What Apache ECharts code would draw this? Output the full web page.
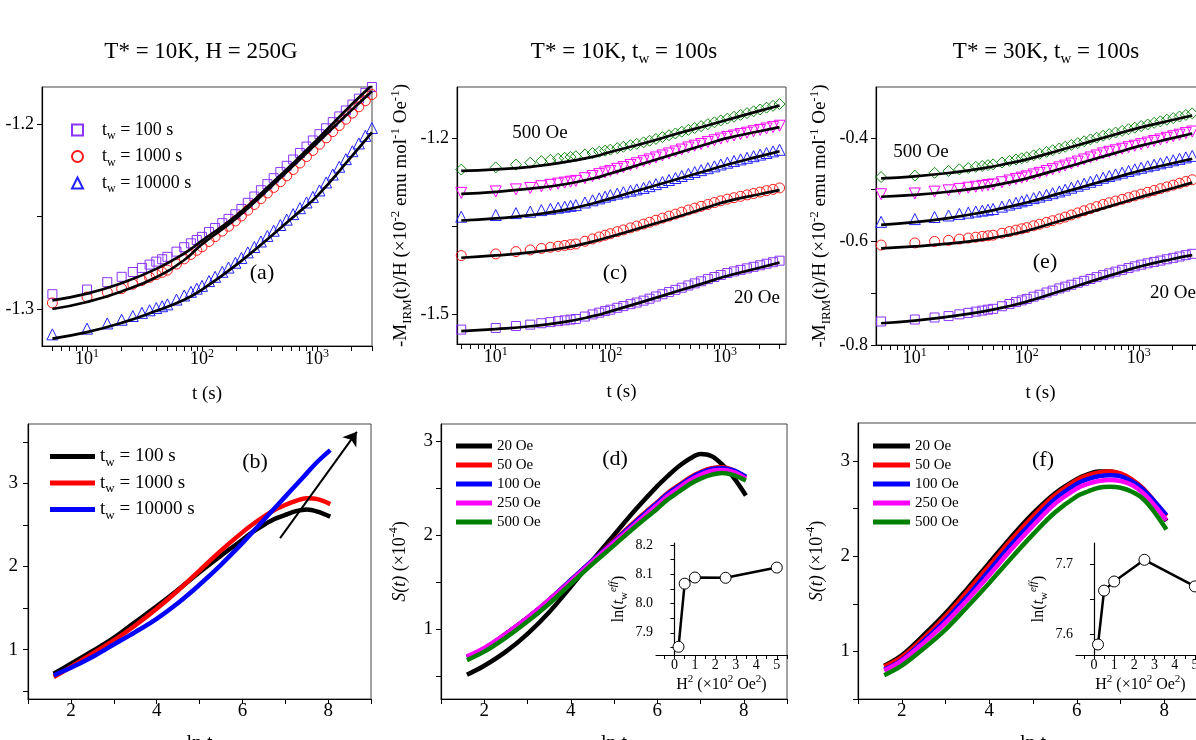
<!DOCTYPE html>
<html><head><meta charset="utf-8">
<script src="https://cdn.jsdelivr.net/npm/echarts@6/dist/echarts.min.js"></script>
<style>html,body{margin:0;padding:0;background:#fff;overflow:hidden}#c{width:1196px;height:740px}</style>
</head><body><div id="c"></div>
<script>
const FONT = '"Liberation Serif","Times New Roman",serif';

// ---------- time grids (s) ----------
const tScatter = [5,10,15,20,25,30,35,40,45,50,60,70,80,90,100,115,130,150,170,195,220,250,285,325,370,420,480,545,620,710,810,920,1050,1200,1370,1560,1780,2030,2310,2630,3000];
const tFit = [5,10,20,40,70,100,200,400,700,1000,2000,3000];

// ---------- panel (a): T*=10K, H=250G ----------
const aTw100 = [-1.2920,-1.2895,-1.2855,-1.2826,-1.2800,-1.2778,-1.2760,-1.2744,-1.2731,-1.2718,-1.2690,-1.2666,-1.2645,-1.2627,-1.2610,-1.2584,-1.2562,-1.2536,-1.2513,-1.2488,-1.2459,-1.2426,-1.2392,-1.2358,-1.2325,-1.2293,-1.2259,-1.2226,-1.2192,-1.2157,-1.2122,-1.2089,-1.2055,-1.2023,-1.1990,-1.1959,-1.1927,-1.1895,-1.1863,-1.1832,-1.1800];
const aTw1000 = [-1.2967,-1.2935,-1.2909,-1.2890,-1.2866,-1.2846,-1.2829,-1.2814,-1.2802,-1.2790,-1.2757,-1.2729,-1.2705,-1.2683,-1.2664,-1.2635,-1.2609,-1.2579,-1.2553,-1.2524,-1.2497,-1.2466,-1.2435,-1.2404,-1.2373,-1.2343,-1.2312,-1.2280,-1.2246,-1.2211,-1.2176,-1.2143,-1.2109,-1.2075,-1.2041,-1.2008,-1.1974,-1.1941,-1.1907,-1.1874,-1.1841];
const aTw10000 = [-1.3137,-1.3106,-1.3078,-1.3058,-1.3038,-1.3021,-1.3007,-1.2995,-1.2985,-1.2975,-1.2949,-1.2927,-1.2907,-1.2890,-1.2875,-1.2849,-1.2826,-1.2799,-1.2776,-1.2750,-1.2724,-1.2694,-1.2665,-1.2635,-1.2605,-1.2577,-1.2546,-1.2517,-1.2487,-1.2455,-1.2424,-1.2394,-1.2359,-1.2316,-1.2273,-1.2231,-1.2190,-1.2147,-1.2105,-1.2064,-1.2022];
const aFit100 = [-1.2953,-1.2917,-1.2860,-1.2783,-1.2700,-1.2630,-1.2494,-1.2323,-1.2180,-1.2085,-1.1895,-1.1790];
const aFit1000 = [-1.3000,-1.2962,-1.2905,-1.2828,-1.2735,-1.2650,-1.2508,-1.2338,-1.2195,-1.2103,-1.1925,-1.1823];
const aFit10000 = [-1.3160,-1.3125,-1.3075,-1.3010,-1.2950,-1.2895,-1.2760,-1.2605,-1.2475,-1.2390,-1.2175,-1.2045];

// ---------- panel (c): T*=10K, tw=100s ----------
const c500 = [-1.2537,-1.2500,-1.2453,-1.2420,-1.2393,-1.2371,-1.2353,-1.2337,-1.2323,-1.2310,-1.2281,-1.2256,-1.2234,-1.2215,-1.2198,-1.2172,-1.2149,-1.2122,-1.2099,-1.2073,-1.2046,-1.2015,-1.1984,-1.1952,-1.1922,-1.1892,-1.1860,-1.1829,-1.1797,-1.1764,-1.1732,-1.1700,-1.1669,-1.1637,-1.1605,-1.1575,-1.1544,-1.1513,-1.1482,-1.1451,-1.1420];
const c250 = [-1.2934,-1.2910,-1.2875,-1.2850,-1.2821,-1.2797,-1.2777,-1.2759,-1.2744,-1.2730,-1.2685,-1.2648,-1.2615,-1.2586,-1.2560,-1.2525,-1.2496,-1.2461,-1.2430,-1.2396,-1.2365,-1.2331,-1.2297,-1.2263,-1.2229,-1.2196,-1.2161,-1.2130,-1.2101,-1.2069,-1.2039,-1.2009,-1.1981,-1.1957,-1.1933,-1.1909,-1.1885,-1.1861,-1.1837,-1.1814,-1.1790];
const c100 = [-1.3341,-1.3312,-1.3279,-1.3256,-1.3228,-1.3206,-1.3187,-1.3171,-1.3156,-1.3143,-1.3098,-1.3061,-1.3028,-1.2999,-1.2973,-1.2947,-1.2924,-1.2898,-1.2875,-1.2850,-1.2820,-1.2785,-1.2750,-1.2715,-1.2681,-1.2647,-1.2611,-1.2579,-1.2547,-1.2514,-1.2482,-1.2450,-1.2420,-1.2392,-1.2364,-1.2337,-1.2309,-1.2282,-1.2255,-1.2227,-1.2200];
const c50 = [-1.4003,-1.3975,-1.3935,-1.3907,-1.3882,-1.3862,-1.3845,-1.3830,-1.3817,-1.3805,-1.3759,-1.3720,-1.3686,-1.3657,-1.3630,-1.3595,-1.3566,-1.3531,-1.3500,-1.3466,-1.3435,-1.3400,-1.3365,-1.3330,-1.3296,-1.3262,-1.3226,-1.3195,-1.3164,-1.3132,-1.3100,-1.3070,-1.3041,-1.3017,-1.2993,-1.2969,-1.2945,-1.2921,-1.2897,-1.2874,-1.2850];
const c20 = [-1.5265,-1.5237,-1.5204,-1.5180,-1.5156,-1.5137,-1.5121,-1.5107,-1.5094,-1.5083,-1.5042,-1.5006,-1.4976,-1.4949,-1.4925,-1.4893,-1.4864,-1.4831,-1.4803,-1.4771,-1.4738,-1.4700,-1.4662,-1.4625,-1.4587,-1.4551,-1.4512,-1.4477,-1.4441,-1.4404,-1.4368,-1.4333,-1.4300,-1.4273,-1.4247,-1.4221,-1.4195,-1.4168,-1.4142,-1.4116,-1.4090];
const c500Fit = [-1.2560,-1.2535,-1.2490,-1.2410,-1.2320,-1.2238,-1.2085,-1.1915,-1.1785,-1.1700,-1.1537,-1.1445];
const c250Fit = [-1.2952,-1.2916,-1.2862,-1.2787,-1.2690,-1.2605,-1.2426,-1.2247,-1.2102,-1.2010,-1.1884,-1.1813];
const c100Fit = [-1.3405,-1.3370,-1.3315,-1.3225,-1.3115,-1.3029,-1.2859,-1.2689,-1.2552,-1.2464,-1.2313,-1.2226];
const c50Fit = [-1.4040,-1.4000,-1.3950,-1.3870,-1.3765,-1.3681,-1.3509,-1.3332,-1.3182,-1.3087,-1.2958,-1.2888];
const c20Fit = [-1.5290,-1.5255,-1.5208,-1.5133,-1.5036,-1.4954,-1.4779,-1.4599,-1.4455,-1.4360,-1.4210,-1.4122];

// ---------- panel (e): T*=30K, tw=100s ----------
const e500 = [-0.4758,-0.4730,-0.4677,-0.4640,-0.4609,-0.4584,-0.4562,-0.4544,-0.4528,-0.4513,-0.4477,-0.4446,-0.4419,-0.4396,-0.4375,-0.4339,-0.4309,-0.4273,-0.4241,-0.4206,-0.4174,-0.4139,-0.4103,-0.4068,-0.4032,-0.3998,-0.3961,-0.3930,-0.3899,-0.3867,-0.3835,-0.3805,-0.3774,-0.3743,-0.3712,-0.3682,-0.3651,-0.3621,-0.3590,-0.3560,-0.3530];
const e250 = [-0.5090,-0.5075,-0.5040,-0.5015,-0.4987,-0.4964,-0.4945,-0.4928,-0.4913,-0.4900,-0.4859,-0.4825,-0.4795,-0.4769,-0.4745,-0.4708,-0.4677,-0.4640,-0.4607,-0.4572,-0.4537,-0.4498,-0.4459,-0.4419,-0.4380,-0.4342,-0.4302,-0.4271,-0.4242,-0.4212,-0.4182,-0.4154,-0.4124,-0.4093,-0.4062,-0.4032,-0.4001,-0.3971,-0.3940,-0.3910,-0.3880];
const e100 = [-0.5623,-0.5570,-0.5529,-0.5500,-0.5469,-0.5445,-0.5424,-0.5406,-0.5389,-0.5375,-0.5329,-0.5290,-0.5256,-0.5227,-0.5200,-0.5165,-0.5136,-0.5101,-0.5070,-0.5036,-0.5002,-0.4964,-0.4926,-0.4887,-0.4849,-0.4812,-0.4772,-0.4739,-0.4707,-0.4674,-0.4642,-0.4610,-0.4579,-0.4550,-0.4521,-0.4493,-0.4464,-0.4435,-0.4407,-0.4379,-0.4350];
const e50 = [-0.6071,-0.6030,-0.6001,-0.5980,-0.5956,-0.5936,-0.5919,-0.5904,-0.5892,-0.5880,-0.5842,-0.5810,-0.5782,-0.5757,-0.5735,-0.5699,-0.5669,-0.5633,-0.5601,-0.5566,-0.5531,-0.5490,-0.5450,-0.5409,-0.5369,-0.5329,-0.5288,-0.5253,-0.5221,-0.5187,-0.5154,-0.5121,-0.5087,-0.5052,-0.5017,-0.4983,-0.4948,-0.4913,-0.4879,-0.4844,-0.4810];
const e20 = [-0.7546,-0.7508,-0.7469,-0.7442,-0.7408,-0.7380,-0.7356,-0.7336,-0.7318,-0.7302,-0.7252,-0.7209,-0.7172,-0.7139,-0.7110,-0.7067,-0.7030,-0.6987,-0.6950,-0.6908,-0.6873,-0.6837,-0.6799,-0.6762,-0.6726,-0.6690,-0.6652,-0.6618,-0.6584,-0.6549,-0.6515,-0.6482,-0.6450,-0.6423,-0.6397,-0.6371,-0.6345,-0.6318,-0.6292,-0.6266,-0.6240];
const e500Fit = [-0.4785,-0.4745,-0.4680,-0.4590,-0.4490,-0.4417,-0.4236,-0.4050,-0.3901,-0.3808,-0.3658,-0.3571];
const e250Fit = [-0.5138,-0.5102,-0.5042,-0.4958,-0.4861,-0.4783,-0.4599,-0.4410,-0.4259,-0.4162,-0.4008,-0.3917];
const e100Fit = [-0.5680,-0.5630,-0.5550,-0.5440,-0.5328,-0.5250,-0.5069,-0.4883,-0.4735,-0.4642,-0.4491,-0.4404];
const e50Fit = [-0.6134,-0.6098,-0.6044,-0.5966,-0.5874,-0.5796,-0.5603,-0.5411,-0.5255,-0.5154,-0.4973,-0.4865];
const e20Fit = [-0.7580,-0.7530,-0.7452,-0.7356,-0.7247,-0.7162,-0.6957,-0.6753,-0.6590,-0.6490,-0.6340,-0.6265];

// ---------- lower panels: S(t) (x1e-4) vs ln t ----------
const lnT = [1.6,2,2.5,3,3.5,4,4.5,5,5.5,6,6.25,6.5,6.75,7,7.25,7.5,7.75,8.05];
const bTw100   = [0.71,0.83,0.98,1.14,1.33,1.52,1.72,1.93,2.13,2.32,2.42,2.50,2.57,2.62,2.665,2.685,2.66,2.60];
const bTw1000  = [0.67,0.79,0.95,1.11,1.29,1.49,1.71,1.95,2.19,2.41,2.51,2.60,2.68,2.74,2.79,2.82,2.81,2.75];
const bTw10000 = [0.69,0.78,0.91,1.06,1.21,1.37,1.56,1.78,2.02,2.28,2.42,2.56,2.70,2.84,2.98,3.12,3.26,3.40];
const arrowFrom = [6.88, 2.34];
const arrowTo = [8.67, 3.62];

const dH20  = [0.515,0.61,0.76,0.95,1.18,1.45,1.73,2.00,2.27,2.52,2.63,2.73,2.81,2.86,2.84,2.75,2.62,2.42];
const dH50  = [0.70,0.79,0.95,1.12,1.31,1.52,1.73,1.94,2.15,2.35,2.45,2.53,2.61,2.67,2.71,2.72,2.69,2.61];
const dH100 = [0.70,0.79,0.95,1.12,1.31,1.52,1.73,1.93,2.14,2.34,2.44,2.52,2.60,2.66,2.70,2.71,2.69,2.62];
const dH250 = [0.71,0.80,0.95,1.12,1.31,1.51,1.72,1.92,2.12,2.32,2.42,2.50,2.58,2.64,2.68,2.69,2.67,2.60];
const dH500 = [0.67,0.76,0.91,1.08,1.27,1.48,1.69,1.89,2.09,2.28,2.38,2.46,2.54,2.60,2.64,2.66,2.64,2.58];

const fH20  = [0.85,0.96,1.17,1.40,1.66,1.93,2.20,2.45,2.66,2.81,2.86,2.89,2.89,2.86,2.79,2.69,2.56,2.37];
const fH50  = [0.84,0.94,1.14,1.37,1.63,1.90,2.17,2.42,2.64,2.80,2.85,2.88,2.89,2.87,2.81,2.72,2.59,2.42];
const fH100 = [0.81,0.91,1.11,1.33,1.58,1.85,2.12,2.37,2.60,2.76,2.81,2.84,2.85,2.84,2.79,2.71,2.59,2.43];
const fH250 = [0.80,0.90,1.09,1.30,1.54,1.80,2.07,2.32,2.55,2.71,2.76,2.79,2.80,2.79,2.75,2.67,2.55,2.38];
const fH500 = [0.75,0.85,1.03,1.23,1.47,1.72,1.98,2.23,2.46,2.63,2.68,2.72,2.73,2.72,2.68,2.61,2.48,2.28];

// ---------- insets: ln(tw_eff) vs H^2 (x10^2 Oe^2) ----------
const insetH2 = [0.2,0.5,1,2.5,5];
const dLnTw = [7.852,8.068,8.089,8.088,8.123];
const fLnTw = [7.585,7.662,7.675,7.706,7.668];

// ---------- tick / label values ----------
const logTickValues = [5,6,7,8,9,10,20,30,40,50,60,70,80,90,100,200,300,400,500,600,700,800,900,1000,2000,3000];
const logLabelValues = [10,100,1000];
const lnTickValues = [1,2,3,4,5,6,7,8,9];
const lnLabelValues = [2,4,6,8];
const sTickValues = [0.5,1,1.5,2,2.5,3,3.5];
const sLabelValues = [1,2,3];
const aYLabels = [-1.3,-1.2], aYTicks = [-1.3,-1.25,-1.2];
const cYLabels = [-1.5,-1.2], cYTicks = [-1.5,-1.35,-1.2];
const eYLabels = [-0.8,-0.6,-0.4], eYTicks = [-0.8,-0.7,-0.6,-0.5,-0.4];
const insetXLabels = [0,1,2,3,4,5];
const insetXTicks = [-0.5,0,0.5,1,1.5,2,2.5,3,3.5,4,4.5,5,5.5];
const dInsetYLabels = [7.9,8.0,8.1,8.2], dInsetYTicks = [7.85,7.9,7.95,8.0,8.05,8.1,8.15,8.2];
const fInsetYLabels = [7.6,7.7], fInsetYTicks = [7.6,7.65,7.7];

const legendA = {aS100:'{gap|}{n|t}{sub|w}{n| = 100 s}', aS1000:'{gap|}{n|t}{sub|w}{n| = 1000 s}', aS10000:'{gap|}{n|t}{sub|w}{n| = 10000 s}'};
const legendB = {bTw100:'{n|t}{sub|w}{n| = 100 s}', bTw1000:'{n|t}{sub|w}{n| = 1000 s}', bTw10000:'{n|t}{sub|w}{n| = 10000 s}'};
const fieldNames = ['20 Oe','50 Oe','100 Oe','250 Oe','500 Oe'];

// ---------- helpers ----------
function rich(fs) {
  const sm = Math.round(fs * 0.66);
  return {
    n: {fontFamily: FONT, fontSize: fs, lineHeight: fs + 6, color: '#000', fill: '#000'},
    i: {fontFamily: FONT, fontSize: fs, lineHeight: fs + 6, fontStyle: 'italic', color: '#000', fill: '#000'},
    sub: {fontFamily: FONT, fontSize: sm, lineHeight: sm, verticalAlign: 'bottom', color: '#000', fill: '#000'},
    sup: {fontFamily: FONT, fontSize: sm, lineHeight: sm, verticalAlign: 'top', color: '#000', fill: '#000'},
    supi: {fontFamily: FONT, fontSize: sm, lineHeight: sm, verticalAlign: 'top', fontStyle: 'italic', color: '#000', fill: '#000'},
    gap: {width: 14, fontSize: fs, lineHeight: fs + 6}
  };
}
const AXLINE = {show: true, lineStyle: {color: '#000', width: 1.2}};
function xLog(gi, min, max) {
  return {
    type: 'log', logBase: 10, gridIndex: gi, min: min, max: max,
    name: 't (s)', nameLocation: 'middle', nameGap: 39, nameMoveOverlap: false,
    nameTextStyle: {fontFamily: FONT, fontSize: 19, color: '#000'},
    axisLine: AXLINE,
    axisTick: {show: true, length: 5, customValues: logTickValues, lineStyle: {color: '#000'}},
    axisLabel: {customValues: logLabelValues, margin: 2,
      formatter: v => '{b|10}{s|' + Math.round(Math.log10(v)) + '}',
      rich: {b: {fontFamily: FONT, fontSize: 18, lineHeight: 22, color: '#000'},
             s: {fontFamily: FONT, fontSize: 12, lineHeight: 8, verticalAlign: 'top', color: '#000'}}},
    splitLine: {show: false}, minorTick: {show: false}
  };
}
function yVal(gi, min, max, labels, ticks, fmt, opt) {
  return Object.assign({
    type: 'value', gridIndex: gi, min: min, max: max,
    axisLine: AXLINE,
    axisTick: {show: true, length: 5, customValues: ticks, lineStyle: {color: '#000'}},
    axisLabel: {customValues: labels, margin: 8, formatter: fmt, fontFamily: FONT, fontSize: 18, color: '#000'},
    splitLine: {show: false}, nameMoveOverlap: false
  }, opt || {});
}
function xLn(gi) {
  return {
    type: 'value', gridIndex: gi, min: 1, max: 9,
    name: 'ln t', nameLocation: 'middle', nameGap: 35, nameMoveOverlap: false,
    nameTextStyle: {fontFamily: FONT, fontSize: 20, color: '#000'},
    axisLine: AXLINE,
    axisTick: {show: true, length: 5, customValues: lnTickValues, lineStyle: {color: '#000'}},
    axisLabel: {customValues: lnLabelValues, margin: 3, fontFamily: FONT, fontSize: 19, color: '#000'},
    splitLine: {show: false}
  };
}
const pair = (xs, ys) => xs.map((x, i) => [x, ys[i]]);
const sc = (name, ai, ys, symbol, color, size, rot) => ({
  type: 'scatter', name: name, xAxisIndex: ai, yAxisIndex: ai, data: pair(tScatter, ys),
  symbol: symbol, symbolSize: size, symbolRotate: rot || 0,
  itemStyle: {color: 'rgba(0,0,0,0)', borderColor: color, borderWidth: 1, opacity: 1},
  z: 2, silent: true, animation: false
});
const fit = (ai, ys) => ({
  type: 'line', xAxisIndex: ai, yAxisIndex: ai, data: pair(tFit, ys), smooth: true,
  symbol: 'none', lineStyle: {color: '#000', width: 2.7}, z: 3, silent: true, animation: false
});
const curve = (name, ai, ys, color, w) => ({
  type: 'line', name: name, xAxisIndex: ai, yAxisIndex: ai, data: pair(lnT, ys), smooth: 0.35,
  symbol: 'none', lineStyle: {color: color, width: w}, itemStyle: {color: color}, z: 3, animation: false
});
const inset = (ai, ys) => ({
  type: 'line', xAxisIndex: ai, yAxisIndex: ai, data: pair(insetH2, ys),
  symbol: 'circle', symbolSize: 11, showSymbol: true,
  itemStyle: {color: '#fff', borderColor: '#000', borderWidth: 1},
  lineStyle: {color: '#000', width: 2.5}, z: 4, animation: false
});

const VIO = '#8833ff', RED = '#ff1a1a', BLU = '#2222ff', MAG = '#ff00ff', GRN = '#118811';

const gridBase = {show: true, borderColor: '#444', borderWidth: 1, backgroundColor: 'transparent', containLabel: false, outerBoundsMode: 'none'};
const grids = [
  Object.assign({left: 42, top: 87, width: 330, height: 259}, gridBase),
  Object.assign({left: 457, top: 87, width: 329, height: 257}, gridBase),
  Object.assign({left: 876, top: 87, width: 329, height: 258}, gridBase),
  Object.assign({left: 28, top: 424, width: 343, height: 275}, gridBase),
  Object.assign({left: 441, top: 424, width: 346, height: 275}, gridBase),
  Object.assign({left: 858, top: 423, width: 350, height: 276}, gridBase),
  {left: 656, top: 543, width: 131, height: 112, show: false, containLabel: false, outerBoundsMode: 'none'},
  {left: 1076, top: 543, width: 129, height: 112, show: false, containLabel: false, outerBoundsMode: 'none'}
];

const f1 = v => v.toFixed(1);
const f0 = v => String(v);
const mName = '{n|-M}{sub|IRM}{n|(t)/H (×10}{sup|-2}{n| emu mol}{sup|-1}{n| Oe}{sup|-1}{n|)}';
const sName = '{i|S(t)}{n| (×10}{sup|-4}{n|)}';
const lnName = '{n|ln(}{i|t}{sub|w}{supi|eff}{n|)}';
const hName = '{n|H}{sup|2}{n| (×10}{sup|2}{n| Oe}{sup|2}{n|)}';

const xAxes = [
  xLog(0, 4.06, 3006),
  xLog(1, 4.59, 3414),
  xLog(2, 4.5, 3900),
  xLn(3), xLn(4), xLn(5),
  {type: 'value', gridIndex: 6, min: -0.9, max: 5.5, axisLine: AXLINE,
   name: hName, nameLocation: 'middle', nameGap: 19, nameMoveOverlap: false, nameTextStyle: {rich: rich(16)},
   axisTick: {show: true, length: 4, customValues: insetXTicks, lineStyle: {color: '#000'}},
   axisLabel: {customValues: insetXLabels, margin: 3, fontFamily: FONT, fontSize: 14, color: '#000'}, splitLine: {show: false}},
  {type: 'value', gridIndex: 7, min: -0.89, max: 5.5, axisLine: AXLINE,
   name: hName, nameLocation: 'middle', nameGap: 19, nameMoveOverlap: false, nameTextStyle: {rich: rich(16)},
   axisTick: {show: true, length: 4, customValues: insetXTicks, lineStyle: {color: '#000'}},
   axisLabel: {customValues: insetXLabels, margin: 3, fontFamily: FONT, fontSize: 14, color: '#000'}, splitLine: {show: false}}
];
const yAxes = [
  yVal(0, -1.32, -1.18, aYLabels, aYTicks, f1),
  yVal(1, -1.551, -1.113, cYLabels, cYTicks, f1, {name: mName, nameLocation: 'middle', nameRotate: 90, nameGap: 43, nameTextStyle: {rich: rich(19)}}),
  yVal(2, -0.8, -0.302, eYLabels, eYTicks, f1, {name: mName, nameLocation: 'middle', nameRotate: 90, nameGap: 43, nameTextStyle: {rich: rich(19)}}),
  yVal(3, 0.405, 3.714, sLabelValues, sTickValues, f0, {axisLabel: {customValues: sLabelValues, margin: 10, formatter: f0, fontFamily: FONT, fontSize: 19, color: '#000'}}),
  yVal(4, 0.257, 3.18, sLabelValues, sTickValues, f0, {name: sName, nameLocation: 'middle', nameRotate: 90, nameGap: 29, nameTextStyle: {rich: rich(18)},
     axisLabel: {customValues: sLabelValues, margin: 8, formatter: f0, fontFamily: FONT, fontSize: 19, color: '#000'}}),
  yVal(5, 0.5, 3.4, sLabelValues, sTickValues, f0, {name: sName, nameLocation: 'middle', nameRotate: 90, nameGap: 29, nameTextStyle: {rich: rich(18)},
     axisLabel: {customValues: sLabelValues, margin: 8, formatter: f0, fontFamily: FONT, fontSize: 19, color: '#000'}}),
  yVal(6, 7.824, 8.207, dInsetYLabels, dInsetYTicks, f1, {name: lnName, nameLocation: 'middle', nameRotate: 90, nameGap: 26, nameTextStyle: {rich: rich(16)},
     axisTick: {show: true, length: 4, customValues: dInsetYTicks, lineStyle: {color: '#000'}},
     axisLabel: {customValues: dInsetYLabels, margin: 3, formatter: f1, fontFamily: FONT, fontSize: 14, color: '#000'}}),
  yVal(7, 7.57, 7.73, fInsetYLabels, fInsetYTicks, f1, {name: lnName, nameLocation: 'middle', nameRotate: 90, nameGap: 26, nameTextStyle: {rich: rich(16)},
     axisTick: {show: true, length: 4, customValues: fInsetYTicks, lineStyle: {color: '#000'}},
     axisLabel: {customValues: fInsetYLabels, margin: 3, formatter: f1, fontFamily: FONT, fontSize: 14, color: '#000'}})
];

const bBlack = curve('bTw100', 3, bTw100, '#000', 4.5);
bBlack.markLine = {
  silent: true, animation: false, symbol: ['none', 'arrow'], symbolSize: 13,
  label: {show: false}, lineStyle: {color: '#000', width: 2, type: 'solid'},
  data: [[{coord: arrowFrom}, {coord: arrowTo}]]
};

const series = [
  sc('aS100', 0, aTw100, 'rect', VIO, 9),
  sc('aS1000', 0, aTw1000, 'circle', RED, 10),
  sc('aS10000', 0, aTw10000, 'triangle', BLU, 11),
  fit(0, aFit100), fit(0, aFit1000), fit(0, aFit10000),

  sc('cS500', 1, c500, 'diamond', GRN, 11),
  sc('cS250', 1, c250, 'triangle', MAG, 11, 180),
  sc('cS100', 1, c100, 'triangle', BLU, 11),
  sc('cS50', 1, c50, 'circle', RED, 10),
  sc('cS20', 1, c20, 'rect', VIO, 9),
  fit(1, c500Fit), fit(1, c250Fit), fit(1, c100Fit), fit(1, c50Fit), fit(1, c20Fit),

  sc('eS500', 2, e500, 'diamond', GRN, 11),
  sc('eS250', 2, e250, 'triangle', MAG, 11, 180),
  sc('eS100', 2, e100, 'triangle', BLU, 11),
  sc('eS50', 2, e50, 'circle', RED, 10),
  sc('eS20', 2, e20, 'rect', VIO, 9),
  fit(2, e500Fit), fit(2, e250Fit), fit(2, e100Fit), fit(2, e50Fit), fit(2, e20Fit),

  bBlack,
  curve('bTw1000', 3, bTw1000, '#ff0000', 4.5),
  curve('bTw10000', 3, bTw10000, '#0000ff', 4.5),

  curve('20 Oe', 4, dH20, '#000', 4.5),
  curve('50 Oe', 4, dH50, '#ff0000', 4.5),
  curve('100 Oe', 4, dH100, '#0000ff', 4.5),
  curve('250 Oe', 4, dH250, '#ff00ff', 4.5),
  curve('500 Oe', 4, dH500, '#008000', 4.5),

  curve('20 Oe', 5, fH20, '#000', 4.5),
  curve('50 Oe', 5, fH50, '#ff0000', 4.5),
  curve('100 Oe', 5, fH100, '#0000ff', 4.5),
  curve('250 Oe', 5, fH250, '#ff00ff', 4.5),
  curve('500 Oe', 5, fH500, '#008000', 4.5),

  inset(6, dLnTw),
  inset(7, fLnTw)
];

const legends = [
  {left: 66, top: 116, orient: 'vertical', itemWidth: 11, itemHeight: 11, itemGap: 5.5, selectedMode: false,
   data: ['aS100', 'aS1000', 'aS10000'], formatter: n => legendA[n], textStyle: {rich: rich(18)}},
  {left: 45, top: 442, orient: 'vertical', icon: 'rect', itemWidth: 45, itemHeight: 5, itemGap: 4.5, selectedMode: false,
   data: ['bTw100', 'bTw1000', 'bTw10000'], formatter: n => legendB[n], textStyle: {rich: rich(19)}},
  {left: 451, top: 432, orient: 'vertical', icon: 'rect', itemWidth: 36, itemHeight: 5, itemGap: 1, selectedMode: false,
   data: fieldNames, textStyle: {fontFamily: FONT, fontSize: 15, lineHeight: 18, color: '#000'}},
  {left: 868, top: 432, orient: 'vertical', icon: 'rect', itemWidth: 37, itemHeight: 5, itemGap: 1, selectedMode: false,
   data: fieldNames, textStyle: {fontFamily: FONT, fontSize: 15, lineHeight: 18, color: '#000'}}
];

function txt(x, y, text, fs, align) {
  return {type: 'text', x: x, y: y, silent: true, z: 10,
    style: {text: text, rich: rich(fs), fontFamily: FONT, fontSize: fs, fill: '#000',
      align: align || 'center', textAlign: align || 'center', verticalAlign: 'middle', textVerticalAlign: 'middle'}};
}
const graphics = [
  txt(201, 52, '{n|T* = 10K, H = 250G}', 23),
  txt(624, 52, '{n|T* = 10K, t}{sub|w}{n| = 100s}', 23),
  txt(1046, 52, '{n|T* = 30K, t}{sub|w}{n| = 100s}', 23),
  txt(262, 273, '{n|(a)}', 22),
  txt(615, 273, '{n|(c)}', 22),
  txt(540, 133, '{n|500 Oe}', 19),
  txt(757, 298, '{n|20 Oe}', 19),
  txt(1045, 262, '{n|(e)}', 22),
  txt(921, 152, '{n|500 Oe}', 19),
  txt(1150, 293, '{n|20 Oe}', 19, 'left'),
  txt(255, 462, '{n|(b)}', 22),
  txt(615, 459, '{n|(d)}', 22),
  txt(1043, 460, '{n|(f)}', 22)
];

const chart = echarts.init(document.getElementById('c'));
chart.setOption({
  animation: false,
  backgroundColor: '#fff',
  textStyle: {fontFamily: FONT},
  grid: grids,
  xAxis: xAxes,
  yAxis: yAxes,
  legend: legends,
  graphic: graphics,
  series: series
});
</script></body></html>
